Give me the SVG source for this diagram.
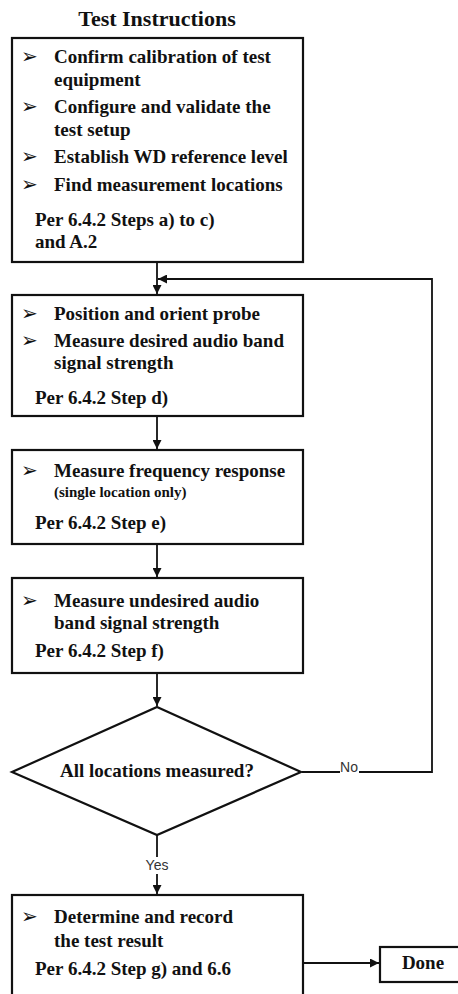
<svg xmlns="http://www.w3.org/2000/svg" width="458" height="994" viewBox="0 0 458 994">
<style>
.box{fill:#fff;stroke:#111;stroke-width:2.2}
.t{font-family:"Liberation Serif","Times New Roman",serif;font-weight:bold;font-size:19px;fill:#111}
.s{font-size:15px}
.b{font-family:"DejaVu Sans",sans-serif;font-size:20px;fill:#111}
.lbl{font-family:"Liberation Sans",Arial,sans-serif;font-size:14px;fill:#333}
.c{fill:none;stroke:#111;stroke-width:1.8}
</style>
<defs>
<marker id="ah" viewBox="0 0 10 10" refX="10" refY="5" markerWidth="5" markerHeight="5" orient="auto" markerUnits="strokeWidth">
<path d="M0,0 L10,5 L0,10 z" fill="#111"/>
</marker>
</defs>
<text class="t" x="157" y="26" text-anchor="middle" style="font-size:22px">Test Instructions</text>
<g id="connectors">
<line class="c" x1="157" y1="262" x2="157" y2="294" marker-end="url(#ah)"/>
<polyline class="c" points="302,772 340,772"/>
<polyline class="c" points="359,772 432,772 432,279 158,279" marker-end="url(#ah)"/>
<line class="c" x1="157" y1="416" x2="157" y2="449" marker-end="url(#ah)"/>
<line class="c" x1="157" y1="544" x2="157" y2="577" marker-end="url(#ah)"/>
<line class="c" x1="157" y1="673" x2="157" y2="706" marker-end="url(#ah)"/>
<line class="c" x1="157" y1="835" x2="157" y2="857"/>
<line class="c" x1="157" y1="874" x2="157" y2="894" marker-end="url(#ah)"/>
<line class="c" x1="303" y1="963" x2="379" y2="963" marker-end="url(#ah)"/>
<text class="lbl" x="349" y="772" text-anchor="middle">No</text>
<text class="lbl" x="157" y="870" text-anchor="middle">Yes</text>
</g>
<g id="box1">
<rect class="box" x="12" y="38" width="291" height="224"/>
<text class="b" x="21" y="63">➢</text><text class="t" x="54" y="63">Confirm calibration of test</text>
<text class="t" x="54" y="86">equipment</text>
<text class="b" x="21" y="113">➢</text><text class="t" x="54" y="113">Configure and validate the</text>
<text class="t" x="54" y="136">test setup</text>
<text class="b" x="21" y="163">➢</text><text class="t" x="54" y="163">Establish WD reference level</text>
<text class="b" x="21" y="191">➢</text><text class="t" x="54" y="191">Find measurement locations</text>
<text class="t" x="35" y="226">Per 6.4.2 Steps a) to c)</text>
<text class="t" x="35" y="248">and A.2</text>
</g>
<g id="box2">
<rect class="box" x="12" y="295" width="291" height="121"/>
<text class="b" x="21" y="320">➢</text><text class="t" x="54" y="320">Position and orient probe</text>
<text class="b" x="21" y="347">➢</text><text class="t" x="54" y="347">Measure desired audio band</text>
<text class="t" x="54" y="369">signal strength</text>
<text class="t" x="35" y="404">Per 6.4.2 Step d)</text>
</g>
<g id="box3">
<rect class="box" x="12" y="450" width="291" height="94"/>
<text class="b" x="21" y="477">➢</text><text class="t" x="54" y="477">Measure frequency response</text>
<text class="t s" x="54" y="497">(single location only)</text>
<text class="t" x="35" y="529">Per 6.4.2 Step e)</text>
</g>
<g id="box4">
<rect class="box" x="12" y="578" width="291" height="95"/>
<text class="b" x="21" y="607">➢</text><text class="t" x="54" y="607">Measure undesired audio</text>
<text class="t" x="54" y="629">band signal strength</text>
<text class="t" x="35" y="657">Per 6.4.2 Step f)</text>
</g>
<g id="decision">
<polygon class="box" points="157,707 301,772 157,835 12,772"/>
<text class="t" x="157" y="777" text-anchor="middle">All locations measured?</text>
</g>
<g id="box5">
<rect class="box" x="12" y="895" width="291" height="110"/>
<text class="b" x="21" y="923">➢</text><text class="t" x="54" y="923">Determine and record</text>
<text class="t" x="54" y="947">the test result</text>
<text class="t" x="35" y="975">Per 6.4.2 Step g) and 6.6</text>
</g>
<g id="done">
<rect class="box" x="380" y="947" width="86" height="35"/>
<text class="t" x="423" y="969" text-anchor="middle">Done</text>
</g>
</svg>
